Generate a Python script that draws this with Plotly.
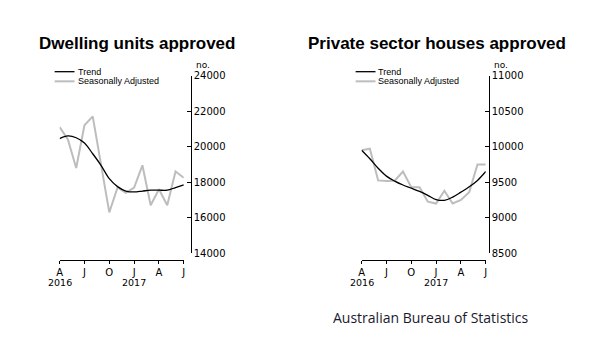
import plotly.graph_objects as go

months = list(range(16))  # Apr 2016 .. Jul 2017
tick_pos = [0, 3, 6, 9, 12, 15]
tick_text = ["A", "J", "O", "J", "A", "J"]
year_pos = [0, 9]
year_text = ["2016", "2017"]

dw_sa = [21100, 20400, 18800, 21200, 21700, 19000, 16300, 17700,
         17400, 17700, 18950, 16700, 17600, 16700, 18600, 18250]
dw_trend = [20450, 20600, 20500, 20200, 19600, 18950, 18200, 17750,
            17500, 17450, 17500, 17550, 17550, 17550, 17700, 17850]
dw_ticks = [14000, 16000, 18000, 20000, 22000, 24000]

ph_sa = [9950, 9970, 9525, 9515, 9520, 9650, 9430, 9430,
         9225, 9200, 9380, 9200, 9250, 9360, 9750, 9750]
ph_trend = [9950, 9830, 9695, 9585, 9515, 9460, 9415, 9370,
            9315, 9255, 9245, 9290, 9360, 9435, 9525, 9650]
ph_ticks = [8500, 9000, 9500, 10000, 10500, 11000]

W, H = 600, 352
def px(x): return x / W
def py(y): return (H - y) / H

SA_COL = "#bdbdbd"
TR_COL = "#000000"
FONT = "DejaVu Sans"

fig = go.Figure()
fig.add_trace(go.Scatter(x=months, y=dw_sa, mode="lines", line=dict(color=SA_COL, width=2),
                         xaxis="x", yaxis="y", showlegend=False))
fig.add_trace(go.Scatter(x=months, y=dw_trend, mode="lines", line=dict(color=TR_COL, width=1.3, shape="spline"),
                         xaxis="x", yaxis="y", showlegend=False))
fig.add_trace(go.Scatter(x=months, y=ph_sa, mode="lines", line=dict(color=SA_COL, width=2),
                         xaxis="x2", yaxis="y2", showlegend=False))
fig.add_trace(go.Scatter(x=months, y=ph_trend, mode="lines", line=dict(color=TR_COL, width=1.3, shape="spline"),
                         xaxis="x2", yaxis="y2", showlegend=False))

xcommon = dict(range=[0, 15], tickmode="array", tickvals=tick_pos, ticktext=tick_text,
               showline=True, linecolor="black", linewidth=1, ticks="outside", ticklen=3,
               tickcolor="black", showgrid=False, zeroline=False, anchor="free",
               position=py(263), tickfont=dict(family=FONT, size=10, color="black"))
ycommon = dict(showline=True, linecolor="black", linewidth=1, ticks="inside", ticklen=4,
               tickcolor="black", showgrid=False, zeroline=False, side="right",
               anchor="free", domain=[py(256), py(72)], tickformat="d",
               tickfont=dict(family=FONT, size=10, color="black"))

fig.update_layout(
    width=W, height=H, margin=dict(l=0, r=0, t=0, b=0),
    paper_bgcolor="white", plot_bgcolor="white",
    xaxis=dict(domain=[px(57), px(182)], **xcommon),
    yaxis=dict(range=[dw_ticks[0], dw_ticks[-1]], tickvals=dw_ticks,
               position=px(189), **ycommon),
    xaxis2=dict(domain=[px(361), px(486)], **xcommon),
    yaxis2=dict(range=[ph_ticks[0], ph_ticks[-1]], tickvals=ph_ticks,
                position=px(489), **ycommon),
    showlegend=False,
)

ann = []
def txt(x, y, s, size, bold=False, xanchor="left", family=FONT, color="black", xref="paper"):
    ann.append(dict(x=px(x) if xref == "paper" else x, y=py(y), xref=xref, yref="paper",
                    text=("<b>%s</b>" % s) if bold else s,
                    showarrow=False, xanchor=xanchor, yanchor="middle",
                    font=dict(family=family, size=size, color=color)))

txt(135, 39, "Dwelling units approved", 17, bold=True, xanchor="center", family="Liberation Sans")
txt(437, 39, "Private sector houses approved", 17, bold=True, xanchor="center", family="Liberation Sans")
txt(192, 61, "no.", 9, family=FONT)
txt(492, 61, "no.", 9, family=FONT)
txt(330, 323, "Australian Bureau of Statistics", 14, family="Open Sans", color="#1a1a2e")

for xr in ("x", "x2"):
    for p, t in zip(year_pos, year_text):
        txt(p, 286, t, 9.5, xanchor="center", family=FONT, xref=xr)

shapes = []
for lx in (52, 355):
    shapes.append(dict(type="line", xref="paper", yref="paper", x0=px(lx), x1=px(lx + 20),
                       y0=py(68), y1=py(68), line=dict(color=TR_COL, width=1.3)))
    shapes.append(dict(type="line", xref="paper", yref="paper", x0=px(lx), x1=px(lx + 20),
                       y0=py(78), y1=py(78), line=dict(color=SA_COL, width=2)))
    txt(lx + 21, 68, "Trend", 9, family="Liberation Sans")
    txt(lx + 21, 78, "Seasonally Adjusted", 9, family="Liberation Sans")

fig.update_layout(annotations=ann, shapes=shapes)
fig.write_html("out.html")
